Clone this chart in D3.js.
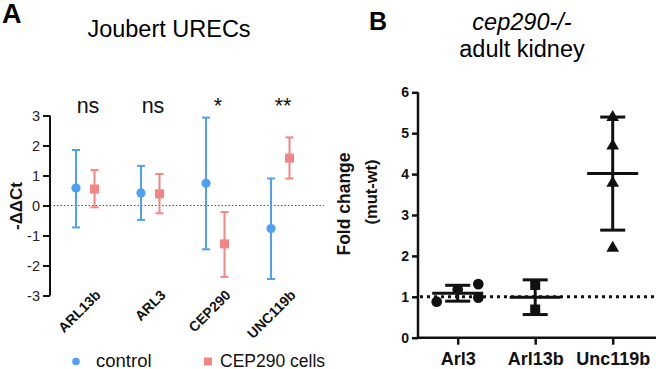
<!DOCTYPE html>
<html><head><meta charset="utf-8">
<script src="https://cdn.jsdelivr.net/npm/d3@7"></script>
<style>
html,body{margin:0;padding:0;background:#fff;}
svg{display:block;font-family:"Liberation Sans",Arial,Helvetica,sans-serif;}
</style></head>
<body>
<svg id="chart" width="656" height="369"></svg>
<script>
// ---- Panel A data ----
const catsA = ["ARL13b", "ARL3", "CEP290", "UNC119b"];
const ctrlMean = [0.58, 0.42, 0.74, -0.77];
const ctrlHi   = [1.85, 1.32, 2.93, 0.90];
const ctrlLo   = [-0.73, -0.48, -1.46, -2.45];
const cellMean = [0.55, 0.39, -1.28, 1.58];
const cellHi   = [1.18, 1.05, -0.22, 2.27];
const cellLo   = [-0.06, -0.26, -2.38, 0.90];
const sigLabels = ["ns", "ns", "*", "**"];
const ticksA = [-3, -2, -1, 0, 1, 2, 3];
const legendA = ["control", "CEP290 cells"];

// ---- Panel B data ----
const catsB = ["Arl3", "Arl13b", "Unc119b"];
const arl3Vals = [0.88, 1.18, 1.31, 0.98];
const arl13bVals = [1.29, 0.69];
const unc119bVals = [5.39, 4.69, 3.78, 2.19];
const ticksB = [0, 1, 2, 3, 4, 5, 6];

const svg = d3.select("#chart");
const BLUE = "#4fa0f5", PINK = "#f38585";
const FF = "Liberation Sans, Arial, sans-serif";
const hyphenFmt = d => (d < 0 ? "-" + Math.abs(d) : String(d));

// ================= Panel A =================
const xA = d3.scalePoint().domain(catsA).range([86, 281]);
const yA = d3.scaleLinear().domain([-3, 3]).range([295.5, 115.5]);
const offCtrl = -10, offCell = 8.5;

svg.append("text").attr("x", 2).attr("y", 23).attr("font-size", 27).attr("font-weight", "bold").text("A");
svg.append("text").attr("x", 169).attr("y", 37).attr("text-anchor", "middle").attr("font-size", 23.5).text("Joubert URECs");

// zero line
svg.append("line").attr("x1", 50).attr("x2", 324).attr("y1", yA(0)).attr("y2", yA(0))
  .attr("stroke", "#555").attr("stroke-width", 1).attr("stroke-dasharray", "1.5,2");

const axA = svg.append("g").attr("transform", "translate(50,0)")
  .call(d3.axisLeft(yA).tickValues(ticksA).tickSize(7).tickPadding(3).tickFormat(hyphenFmt));
axA.select(".domain").attr("stroke", "#111").attr("stroke-width", 2).attr("d", `M0,${yA(-3)}V${yA(3)}`);
axA.selectAll(".tick line").attr("stroke", "#111").attr("stroke-width", 2);
axA.selectAll(".tick text").attr("font-size", 14.5).attr("fill", "#222").attr("font-family", FF);

// x labels rotated
const axAx = svg.append("g").attr("transform", "translate(0,296)")
  .call(d3.axisBottom(xA).tickSize(0).tickPadding(0));
axAx.select(".domain").remove();
axAx.selectAll(".tick text")
  .attr("font-size", 14).attr("font-weight", "bold").attr("fill", "#111")
  .attr("font-family", FF)
  .attr("text-anchor", "end").attr("dy", 0)
  .attr("transform", "translate(15,0) rotate(-45)");

function errBarA(g, x, lo, hi, mean, color, shape) {
  g.append("line").attr("x1", x).attr("x2", x).attr("y1", yA(lo)).attr("y2", yA(hi))
    .attr("stroke", color).attr("stroke-width", 2);
  [lo, hi].forEach(v => g.append("line").attr("x1", x - 4).attr("x2", x + 4)
    .attr("y1", yA(v)).attr("y2", yA(v)).attr("stroke", color).attr("stroke-width", 2));
  if (shape === "circle") g.append("circle").attr("cx", x).attr("cy", yA(mean)).attr("r", 4.6).attr("fill", color);
  else g.append("rect").attr("x", x - 4.5).attr("y", yA(mean) - 4.5).attr("width", 9).attr("height", 9).attr("fill", color);
}
const gA = svg.append("g");
catsA.forEach((c, i) => {
  errBarA(gA, xA(c) + offCtrl, ctrlLo[i], ctrlHi[i], ctrlMean[i], BLUE, "circle");
  errBarA(gA, xA(c) + offCell, cellLo[i], cellHi[i], cellMean[i], PINK, "rect");
  gA.append("text").attr("x", xA(c) + 2).attr("y", 113).attr("text-anchor", "middle")
    .attr("font-size", 21.5).attr("fill", "#111").text(sigLabels[i]);
});

// y label A
svg.append("text").attr("transform", "translate(22,206) rotate(-90)").attr("text-anchor", "middle")
  .attr("font-size", 17).attr("font-weight", "bold").attr("fill", "#111").text("-\u0394\u0394Ct");

// legend A
svg.append("circle").attr("cx", 76).attr("cy", 361.5).attr("r", 3.8).attr("fill", BLUE);
svg.append("text").attr("x", 96).attr("y", 366.5).attr("font-size", 18.5).attr("fill", "#111").text(legendA[0]);
svg.append("rect").attr("x", 204).attr("y", 357.5).attr("width", 8).attr("height", 8).attr("fill", PINK);
svg.append("text").attr("x", 220).attr("y", 366.5).attr("font-size", 17.5).attr("fill", "#111").text(legendA[1]);

// ================= Panel B =================
const xB = d3.scalePoint().domain(catsB).range([457.7, 612.7]);
const yB = d3.scaleLinear().domain([0, 6]).range([337.7, 92.3]);

svg.append("text").attr("x", 369).attr("y", 30).attr("font-size", 25).attr("font-weight", "bold").text("B");
svg.append("text").attr("x", 522).attr("y", 30).attr("text-anchor", "middle").attr("font-size", 23.5)
  .attr("font-style", "italic").text("cep290-/-");
svg.append("text").attr("x", 522).attr("y", 57).attr("text-anchor", "middle").attr("font-size", 23.5)
  .text("adult kidney");

// dotted y=1 line
svg.append("line").attr("x1", 420).attr("x2", 656).attr("y1", yB(1)).attr("y2", yB(1))
  .attr("stroke", "#111").attr("stroke-width", 3).attr("stroke-dasharray", "3,4");

const axB = svg.append("g").attr("transform", "translate(418,0)")
  .call(d3.axisLeft(yB).tickValues(ticksB).tickSize(6).tickPadding(3).tickFormat(d3.format("d")));
axB.select(".domain").attr("stroke", "#111").attr("stroke-width", 2.5).attr("d", `M0,${yB(0)}V${yB(6)}`);
axB.selectAll(".tick line").attr("stroke", "#111").attr("stroke-width", 2.5);
axB.selectAll(".tick text").attr("font-size", 14).attr("font-weight", "bold").attr("fill", "#111")
  .attr("font-family", FF);

const axBx = svg.append("g").attr("transform", `translate(0,${yB(0)})`)
  .call(d3.axisBottom(xB).tickSize(7).tickPadding(8));
axBx.select(".domain").attr("stroke", "#111").attr("stroke-width", 2.5).attr("d", "M417,0H656");
axBx.selectAll(".tick line").attr("stroke", "#111").attr("stroke-width", 2.5);
axBx.selectAll(".tick text").attr("font-size", 18).attr("font-weight", "bold").attr("fill", "#111")
  .attr("font-family", FF);

svg.append("text").attr("transform", "translate(350,204) rotate(-90)").attr("text-anchor", "middle")
  .attr("font-size", 17.5).attr("font-weight", "bold").attr("fill", "#111").text("Fold change");
svg.append("text").attr("transform", "translate(377,192) rotate(-90)").attr("text-anchor", "middle")
  .attr("font-size", 16.5).attr("font-weight", "bold").attr("fill", "#111").text("(mut-wt)");

const gB = svg.append("g");
// scatter spread (layout) for overlapping points
const spreadB = { "Arl3": [-21, 0, 20.6, 20.6], "Arl13b": [0, 0], "Unc119b": [0, 0, 0, 0] };
const groupsB = [arl3Vals, arl13bVals, unc119bVals];
const symB = [d3.symbolCircle, d3.symbolSquare, d3.symbolTriangle];
const symSize = [90, 100, 70];
catsB.forEach((c, i) => {
  const vals = groupsB[i];
  const m = d3.mean(vals), sd = d3.deviation(vals);
  const x = xB(c);
  vals.forEach((v, j) => {
    gB.append("path").attr("d", d3.symbol().type(symB[i]).size(symSize[i])())
      .attr("transform", `translate(${x + spreadB[c][j]},${yB(v)})`).attr("fill", "#111");
  });
  gB.append("line").attr("x1", x).attr("x2", x).attr("y1", yB(m - sd)).attr("y2", yB(m + sd))
    .attr("stroke", "#111").attr("stroke-width", 3);
  [m - sd, m + sd].forEach(v => gB.append("line").attr("x1", x - 12.5).attr("x2", x + 12.5)
    .attr("y1", yB(v)).attr("y2", yB(v)).attr("stroke", "#111").attr("stroke-width", 3));
  gB.append("line").attr("x1", x - 25.5).attr("x2", x + 25.5).attr("y1", yB(m)).attr("y2", yB(m))
    .attr("stroke", "#111").attr("stroke-width", 3);
});
</script>
</body></html>
